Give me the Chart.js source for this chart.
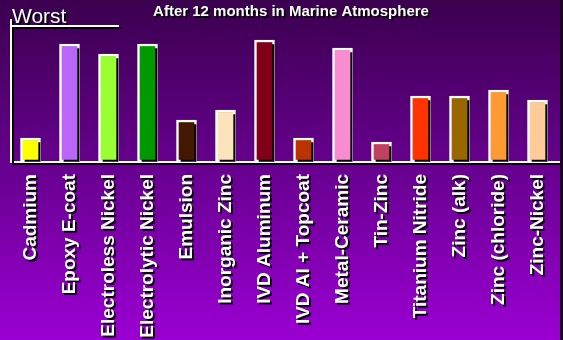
<!DOCTYPE html>
<html>
<head>
<meta charset="utf-8">
<script src="https://cdn.jsdelivr.net/npm/chart.js@4/dist/chart.umd.min.js"></script>
<style>
html,body{margin:0;padding:0;background:#000;}
#wrap{width:563px;height:340px;}
</style>
</head>
<body>
<div id="wrap"><canvas id="c" width="563" height="340"></canvas></div>
<script>
const categories = ["Cadmium","Epoxy E-coat","Electroless Nickel","Electrolytic Nickel","Emulsion","Inorganic Zinc","IVD Aluminum","IVD Al + Topcoat","Metal-Ceramic","Tin-Zinc","Titanium Nitride","Zinc (alk)","Zinc (chloride)","Zinc-Nickel"];
const values = [24,118,108,118,42,52,122,24,114,20,66,66,72,62];
const barColors = ["#FFFF00","#BB66F8","#99FF33","#009900","#441800","#FDE3BC","#800018","#BB3300","#F78CD0","#C04060","#FF3300","#996600","#FF9933","#FFCC99"];
const titleText = "After 12 months in Marine Atmosphere";
const worstText = "Worst";
const axisMax = 142;
const worstLevel = 136;

const FONT = "'Liberation Sans', Arial, sans-serif";

function setShadow(ctx) {
  ctx.shadowColor = '#000';
  ctx.shadowOffsetX = 2;
  ctx.shadowOffsetY = 2;
  ctx.shadowBlur = 0;
}

const deco = {
  id: 'deco',
  beforeDraw(chart) {
    const ctx = chart.ctx;
    const g = ctx.createLinearGradient(0, 0, 0, chart.height);
    g.addColorStop(0, '#3a004e');
    g.addColorStop(0.5, '#680090');
    g.addColorStop(1, '#9a00d2');
    ctx.save();
    ctx.fillStyle = g;
    ctx.fillRect(0, 0, chart.width, chart.height);
    ctx.restore();
    setShadow(ctx);
  },
  beforeDatasetsDraw(chart) { setShadow(chart.ctx); },
  afterDraw(chart) {
    const ctx = chart.ctx;
    const a = chart.chartArea;
    const y = chart.scales.y;
    ctx.save();
    setShadow(ctx);
    ctx.fillStyle = '#fff';
    ctx.textBaseline = 'alphabetic';
    ctx.textAlign = 'center';
    ctx.font = "bold 15px " + FONT;
    ctx.fillText(titleText, 291, 16);
    ctx.textAlign = 'left';
    ctx.font = "21px " + FONT;
    ctx.fillText(worstText, 12, 23);
    const wy = y.getPixelForValue(worstLevel);
    ctx.strokeStyle = '#fff';
    ctx.lineWidth = 2;
    ctx.beginPath();
    ctx.moveTo(a.left, wy);
    ctx.lineTo(a.left + 108, wy);
    ctx.stroke();
    ctx.beginPath();
    ctx.moveTo(a.right - 1, a.bottom);
    ctx.lineTo(chart.width - 3, a.bottom);
    ctx.stroke();
    ctx.restore();
    ctx.save();
    ctx.fillStyle = '#1a0022';
    ctx.fillRect(chart.width - 3, 0, 3, chart.height);
    ctx.restore();
  }
};

new Chart(document.getElementById('c'), {
  type: 'bar',
  data: {
    labels: categories,
    datasets: [{
      data: values,
      backgroundColor: barColors,
      borderColor: '#ffffff',
      borderWidth: 2.5,
      borderSkipped: false,
      barThickness: 20
    }]
  },
  options: {
    responsive: false,
    animation: false,
    devicePixelRatio: 1,
    layout: { padding: { left: 11, right: 6, top: 20, bottom: 0 } },
    plugins: {
      legend: { display: false },
      title: { display: false },
      tooltip: { enabled: false }
    },
    scales: {
      x: {
        grid: { display: false, drawTicks: false, tickLength: 0 },
        border: { display: true, color: '#ffffff', width: 2 },
        ticks: {
          color: '#ffffff',
          font: { family: FONT, size: 19, weight: 'bold' },
          minRotation: 90,
          maxRotation: 90,
          autoSkip: false,
          padding: 12
        },
        afterFit(scale) {
          scale.height = 178;
          scale.paddingLeft = 0;
          scale.paddingRight = 0;
        }
      },
      y: {
        min: 0,
        max: axisMax,
        grid: { display: false, drawTicks: false },
        border: { display: true, color: '#ffffff', width: 2 },
        ticks: { display: false }
      }
    }
  },
  plugins: [deco]
});
</script>
</body>
</html>
